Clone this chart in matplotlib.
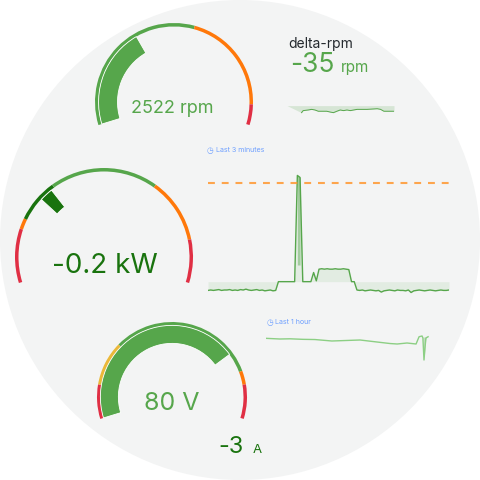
import numpy as np
import matplotlib.pyplot as plt
from matplotlib.patches import Circle, Wedge

plt.rcParams['font.family'] = ['Inter', 'DejaVu Sans']

GREEN = '#56a64b'
DARK_GREEN = '#19730e'
ORANGE = '#ff780a'
RED = '#e02f44'
YELLOW = '#eab839'
BLUE = '#6e9fff'
BG = '#f3f4f4'

# gauge values, ranges and threshold steps
rpm_value = 2522
rpm_range = (0, 7000)
rpm_steps = [(0, GREEN), (4000, ORANGE), (6500, RED)]

kw_value = -0.2
kw_range = (-2, 4)
kw_steps = [(-2, RED), (-1, ORANGE), (-0.8, DARK_GREEN), (0, GREEN), (2, ORANGE), (3.2, RED)]

volt_value = 80
volt_range = (20, 100)
volt_steps = [(20, RED), (30, YELLOW), (43, GREEN), (86, ORANGE), (90, RED)]

amp_value = -3
delta_rpm_value = -35

# delta-rpm sparkline
delta_t = [0, 14.4, 16, 21, 24.4, 27.7, 31, 39.4, 42.7, 46, 49.4, 52.7, 56, 59.4,
           62.7, 69.4, 79.4, 89.4, 92.7, 96, 106]
delta_rpm = [0, -45, -32, -28, -24, -28, -36, -36, -41, -45, -36, -28, -32, -28,
             -32, -24, -24, -20, -24, -36, -36]

# power, last 3 minutes (2 s steps)
kw_hist = [-0.21, -0.20, -0.21, -0.20, -0.19, -0.21, -0.20, -0.20, -0.19, -0.21,
           -0.20, -0.21, -0.19, -0.20, -0.18, -0.20, -0.21, -0.20, -0.19, -0.21,
           -0.20, -0.22, -0.21, -0.20, -0.22, -0.21,
           0.0, 0.0, 0.0, 0.0, 0.0, 0.0, 0.0,
           2.55, 2.50,
           0.0, 0.0, 0.0, 0.0,
           0.22, 0.02,
           0.30, 0.31, 0.30, 0.31, 0.30, 0.30, 0.31, 0.30, 0.30, 0.31, 0.30, 0.29,
           0.0, 0.0,
           -0.20, -0.21, -0.20, -0.22, -0.21, -0.20, -0.21, -0.22, -0.21, -0.25,
           -0.22, -0.21, -0.20, -0.21, -0.22, -0.20, -0.21, -0.21, -0.22, -0.20,
           -0.26, -0.22, -0.21, -0.20, -0.21, -0.22, -0.21, -0.20, -0.21, -0.22,
           -0.21, -0.20, -0.21, -0.21, -0.20]
kw_limit = 2.37

# voltage, last hour (minutes)
volt_t = [0, 5.1, 8.8, 13.5, 17.9, 24.1, 28.9, 34.4, 40.6, 45.4, 48.0, 51.6, 54.9,
          56.0, 57.1, 57.4, 57.8, 58.2, 58.5, 59.3]
volt_hist = [81.0, 80.9, 80.93, 80.85, 80.82, 80.6, 80.67, 80.75, 80.45, 80.22, 80.15,
             80.3, 80.15, 81.24, 81.35, 81.05, 77.75, 79.74, 81.05, 81.24]

SWEEP_START = 197
SWEEP = 214
W = 480


def to_angle(v, lo, hi):
    return SWEEP_START - (v - lo) / (hi - lo) * SWEEP


def draw_gauge(ax, cx, cy, r, vrange, steps, bar_from, bar_to, bar_color):
    lo, hi = vrange
    cy = W - cy
    for i, (start, color) in enumerate(steps):
        end = steps[i + 1][0] if i + 1 < len(steps) else hi
        ax.add_patch(Wedge((cx, cy), r, to_angle(end, lo, hi), to_angle(start, lo, hi),
                           width=3.5, color=color, lw=0))
    ax.add_patch(Wedge((cx, cy), r * 0.955, to_angle(bar_to, lo, hi), to_angle(bar_from, lo, hi),
                       width=r * 0.24, facecolor=bar_color, edgecolor='white', lw=0.6))


def inset(fig, x0, y0, x1, y1):
    a = fig.add_axes([x0 / W, 1 - y1 / W, (x1 - x0) / W, (y1 - y0) / W])
    a.set_facecolor('none')
    a.axis('off')
    return a


fig = plt.figure(figsize=(4.8, 4.8), dpi=100)
ax = fig.add_axes([0, 0, 1, 1])
ax.set_xlim(0, W)
ax.set_ylim(0, W)
ax.axis('off')
ax.add_patch(Circle((240, 240), 240, color=BG, lw=0))

# gauges
draw_gauge(ax, 174, 102, 79, rpm_range, rpm_steps, rpm_range[0], rpm_value, GREEN)
draw_gauge(ax, 104, 257, 89, kw_range, kw_steps, kw_value - 0.13, kw_value + 0.13, DARK_GREEN)
draw_gauge(ax, 172, 397, 75, volt_range, volt_steps, volt_range[0], volt_value, GREEN)

ax.text(172, W - 112.7, f'{rpm_value} rpm', color=GREEN, fontsize=13, ha='center', va='baseline')
ax.text(105, W - 273.3, f'{kw_value} kW', color=DARK_GREEN, fontsize=20, ha='center', va='baseline')
ax.text(171.5, W - 410, f'{volt_value} V', color=GREEN, fontsize=18, ha='center', va='baseline')

# stat panels
ax.text(288, W - 47.7, 'delta-rpm', color='#24292e', fontsize=10, ha='left', va='baseline')
ax.text(290, W - 71.7, f'{delta_rpm_value}', color=GREEN, fontsize=19, ha='left', va='baseline')
ax.text(341, W - 71.7, 'rpm', color=GREEN, fontsize=11, ha='left', va='baseline')
ax.text(218, W - 453.3, f'{amp_value}', color=DARK_GREEN, fontsize=17, ha='left', va='baseline')
ax.text(253, W - 453.3, 'A', color=DARK_GREEN, fontsize=9.5, ha='left', va='baseline')

ax.text(207, W - 150, '◷', color=BLUE, fontsize=5.5, ha='left', va='center', family='DejaVu Sans')
ax.text(216, W - 150, 'Last 3 minutes', color=BLUE, fontsize=5.1, ha='left', va='center')
ax.text(267, W - 322, '◷', color=BLUE, fontsize=5.5, ha='left', va='center', family='DejaVu Sans')
ax.text(275, W - 322, 'Last 1 hour', color=BLUE, fontsize=5.1, ha='left', va='center')

# delta-rpm sparkline
a1 = inset(fig, 287, 95, 394, 118)
a1.fill_between(delta_t, delta_rpm, 0, color=GREEN, alpha=0.18, lw=0)
a1.plot(delta_t[1:], delta_rpm[1:], color=GREEN, lw=0.7)
a1.set_xlim(delta_t[0], delta_t[-1])
a1.set_ylim(-79, 67.5)

# power sparkline
kw_x = np.arange(len(kw_hist)) * 2
kw_y = np.array(kw_hist)
a2 = inset(fig, 208, 170, 449, 300)
a2.fill_between(kw_x, kw_y, 0, color=GREEN, alpha=0.1, lw=0)
a2.fill_between(kw_x, kw_y, 0.4, where=kw_y > 1, color=GREEN, alpha=0.45, lw=0)
a2.plot(kw_x, kw_y, color=GREEN, lw=1.0)
a2.axhline(kw_limit, color='#ff9830', alpha=0.85, lw=1.5, dashes=(3.3, 3.3))
a2.set_xlim(kw_x[0], kw_x[-1])
a2.set_ylim(-0.44, 2.68)

# voltage sparkline
vt = np.array(volt_t)
vy = np.array(volt_hist)
a3 = inset(fig, 266, 330, 430, 362)
a3.fill_between(vt, vy, 81.2, where=vt >= 57.4, color=GREEN, alpha=0.3, lw=0)
a3.plot(vt, vy, color='#8ccf84', lw=1.0)
a3.set_xlim(0, 60)
a3.set_ylim(77.45, 82.25)

fig.savefig('out.png', dpi=100, facecolor='white')
